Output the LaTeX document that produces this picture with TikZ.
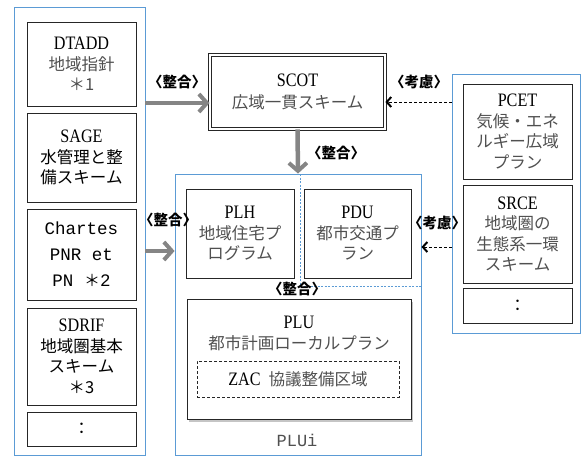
\documentclass[tikz,border=0pt]{standalone}
\usepackage{fontspec}
\setmainfont{Liberation Serif}[FakeStretch=0.85]
\newfontfamily\jp{Noto Sans CJK JP}
\newfontfamily\mono{Liberation Mono}
\usetikzlibrary{arrows.meta,shadows}
\definecolor{cblue}{HTML}{5B9BD5}
\definecolor{agray}{HTML}{858585}
\definecolor{tgray}{HTML}{505050}
\newcommand{\jg}[1]{{\jp\fontsize{16.5}{20}\selectfont\color{tgray}#1}}
\newcommand{\jk}[1]{{\jp\fontsize{16.5}{20}\selectfont\color{black}#1}}
\begin{document}
\begin{tikzpicture}[x=1pt,y=-1pt,
  cont/.style={draw=cblue, line width=0.9pt, fill=white, inner sep=0pt,
    drop shadow={shadow xshift=1pt, shadow yshift=-1pt, opacity=0.25}},
  box/.style={draw=black!85, line width=0.9pt, fill=white, inner sep=0pt, align=center,
    font=\fontsize{19}{20.5}\selectfont},
  lab/.style={font=\jp\bfseries\fontsize{14.5}{16}\selectfont, inner sep=0pt},
  garrow/.style={draw=agray, line width=4.5pt,
    -{Straight Barb[length=8pt,width=18pt,line width=4pt]}},
  darrow/.style={draw=black, line width=1pt, dash pattern=on 3pt off 2pt,
    -{Straight Barb[length=4.5pt,width=10pt,line width=2pt]}}
]
\useasboundingbox (0,0) rectangle (583,458);

% containers
\node[cont, minimum width=131pt, minimum height=448pt] (L) at (79.5,231) {};
\node[cont, minimum width=246pt, minimum height=281pt] (PLUi) at (298,314.5) {};
\node[cont, minimum width=128pt, minimum height=259pt] (R) at (516,203.5) {};

% dashed blue PDU region
\coordinate (d1) at (300,174);
\coordinate (d2) at (300,286);
\coordinate (d3) at (421,286);
\draw[cblue, line width=0.7pt, dash pattern=on 2pt off 1.5pt] (d1) -- (d2) -- (d3);

% left column
\node[box, minimum width=109pt, minimum height=84pt] (DTADD) at (81.5,64)
  {DTADD\\\jg{地域指針}\\\jg{＊1}};
\node[box, minimum width=109pt, minimum height=89pt] (SAGE) at (81.5,157.5)
  {SAGE\\\jk{水管理と整}\\\jk{備スキーム}};
\node[box, minimum width=109pt, minimum height=91pt, font=\mono\fontsize{17.5}{26}\selectfont] (Chartes) at (81.5,254.5)
  {Chartes\\PNR et\\PN {\jp\fontsize{16}{20}\selectfont＊}2};
\node[box, minimum width=109pt, minimum height=97pt] (SDRIF) at (81.5,356.5)
  {SDRIF\\\jk{地域圏基本}\\\jk{スキーム}\\\jk{＊3}};
\node[box, minimum width=109pt, minimum height=34pt] (LD) at (81.5,429) {\jk{：}};

% SCOT
\node[box, double, double distance=1.6pt, line width=0.8pt, minimum width=175pt, minimum height=74pt] (SCOT) at (297.5,92)
  {SCOT\\[2pt]\jg{広域一貫スキーム}};

% PLUi content
\node[box, minimum width=108pt, minimum height=89pt] (PLH) at (240,233.5)
  {PLH\\\jg{地域住宅プ}\\\jg{ログラム}};
\node[box, minimum width=107pt, minimum height=89pt] (PDU) at (357.5,233.5)
  {PDU\\\jg{都市交通プ}\\\jg{ラン}};
\node[box, minimum width=224pt, minimum height=120pt,
  drop shadow={shadow xshift=2pt, shadow yshift=-2.5pt, opacity=0.45}] (PLU) at (299,359) {};
\node[align=center, inner sep=0pt, font=\fontsize{19}{21}\selectfont] (PLUt) at (299,333)
  {PLU\\\jg{都市計画ローカルプラン}};
\node[box, dashed, dash pattern=on 3pt off 2pt, line width=0.8pt, minimum width=202pt, minimum height=36pt] (ZAC) at (298,379)
  {ZAC\hspace{8pt}\jg{協議整備区域}};
\node[inner sep=0pt, font=\mono\fontsize{17}{20}\selectfont, text=tgray] (PLUil) at (297,440) {PLUi};

% right column
\node[box, minimum width=109pt, minimum height=95pt] (PCET) at (517.5,131.5)
  {PCET\\\jg{気候・エネ}\\\jg{ルギー広域}\\\jg{プラン}};
\node[box, minimum width=109pt, minimum height=98pt] (SRCE) at (517.5,234)
  {SRCE\\\jg{地域圏の}\\\jg{生態系一環}\\\jg{スキーム}};
\node[box, minimum width=109pt, minimum height=35pt] (RD) at (517.5,305.5) {\jk{：}};

% arrows
\coordinate (y1) at (0,103);
\coordinate (y2) at (0,251);
\coordinate (y3) at (0,102);
\coordinate (y4) at (0,247);
\draw[garrow] (L.east |- y1) -- (SCOT.west |- y1);
\draw[garrow] (SCOT.south) -- (PLUi.north);
\draw[garrow] (L.east |- y2) -- (PLUi.west |- y2);
\draw[darrow] (R.west |- y3) -- (SCOT.east |- y3);
\draw[darrow] (R.west |- y4) -- (PLUi.east |- y4);

% labels
\node[lab] (l1) at (177,82) {〈整合〉};
\node[lab] (l2) at (336,153) {〈整合〉};
\node[lab] (l3) at (168,220) {〈整合〉};
\node[lab] (l4) at (297,289) {〈整合〉};
\node[lab] (l5) at (419,82) {〈考慮〉};
\node[lab] (l6) at (437,223) {〈考慮〉};
\end{tikzpicture}
\end{document}
